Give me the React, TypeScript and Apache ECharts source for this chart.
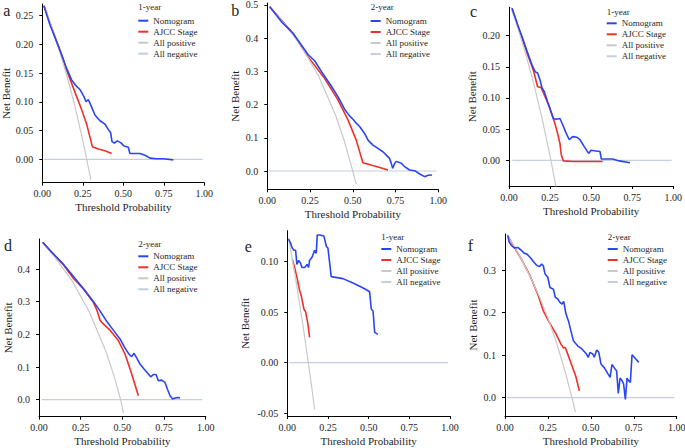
import React, { useEffect, useRef } from 'react';
import * as echarts from 'echarts';

const FONT = '"Liberation Serif", "Times New Roman", serif';

const xTicks = [0, 0.25, 0.5, 0.75, 1];
const seriesNames = ['Nomogram', 'AJCC Stage', 'All positive', 'All negative'];
const panelLetters = ['a', 'b', 'c', 'd', 'e', 'f'];
const panelYears = ['1-year', '2-year', '1-year', '2-year', '1-year', '2-year'];

const aYTicks = [0, 0.05, 0.1, 0.15, 0.2, 0.25];
const bYTicks = [0, 0.1, 0.2, 0.3, 0.4, 0.5];
const cYTicks = [0, 0.05, 0.1, 0.15, 0.2];
const dYTicks = [0, 0.1, 0.2, 0.3, 0.4];
const eYTicks = [-0.05, 0, 0.05, 0.1];
const fYTicks = [0, 0.1, 0.2, 0.3];

// Panel a
const aNomogram = [[0.01,0.267],[0.047,0.234],[0.088,0.205],[0.119,0.182],[0.15,0.158],[0.181,0.138],[0.208,0.128],[0.233,0.121],[0.257,0.109],[0.27,0.1],[0.284,0.104],[0.298,0.095],[0.325,0.077],[0.356,0.067],[0.387,0.061],[0.407,0.052],[0.422,0.046],[0.43,0.031],[0.444,0.028],[0.463,0.032],[0.484,0.029],[0.504,0.023],[0.531,0.021],[0.541,0.01],[0.603,0.01],[0.634,0.007],[0.665,0.002],[0.706,0.001],[0.747,0.001],[0.809,-0.001]];
const aAjcc = [[0.01,0.267],[0.088,0.205],[0.119,0.182],[0.15,0.155],[0.181,0.132],[0.212,0.109],[0.243,0.086],[0.274,0.061],[0.309,0.022],[0.346,0.018],[0.387,0.015],[0.428,0.01]];
const aAllPos = [[0.01,0.268],[0.05,0.237],[0.1,0.194],[0.15,0.147],[0.2,0.094],[0.25,0.033],[0.3,-0.036]];
const aAllNeg = [[0.01,0],[0.99,0]];

// Panel b
const bNomogram = [[0.014,0.495],[0.082,0.45],[0.15,0.415],[0.189,0.387],[0.238,0.351],[0.277,0.332],[0.326,0.292],[0.374,0.256],[0.413,0.224],[0.452,0.186],[0.481,0.166],[0.501,0.156],[0.52,0.144],[0.54,0.134],[0.569,0.113],[0.589,0.093],[0.618,0.078],[0.647,0.068],[0.676,0.058],[0.696,0.048],[0.715,0.038],[0.725,0.023],[0.733,0.008],[0.745,0.023],[0.754,0.029],[0.784,0.023],[0.803,0.013],[0.832,0.003],[0.862,0.001],[0.891,-0.009],[0.92,-0.017],[0.94,-0.013],[0.963,-0.012]];
const bAjcc = [[0.014,0.495],[0.15,0.415],[0.238,0.344],[0.335,0.279],[0.413,0.214],[0.472,0.154],[0.52,0.093],[0.559,0.025],[0.628,0.015],[0.706,0.003]];
const bAllPos = [[0.01,0.495],[0.1,0.444],[0.2,0.375],[0.3,0.286],[0.4,0.167],[0.45,0.091],[0.5,0.0],[0.52,-0.04]];
const bAllNeg = [[0.01,0],[0.99,0]];

// Panel c
const cNomogram = [[0.018,0.244],[0.053,0.217],[0.083,0.196],[0.114,0.172],[0.14,0.153],[0.16,0.142],[0.174,0.14],[0.189,0.129],[0.201,0.116],[0.215,0.11],[0.235,0.094],[0.256,0.078],[0.27,0.067],[0.286,0.066],[0.31,0.067],[0.327,0.057],[0.347,0.044],[0.367,0.033],[0.387,0.038],[0.412,0.037],[0.432,0.033],[0.458,0.022],[0.485,0.011],[0.499,0.016],[0.529,0.015],[0.554,0.014],[0.562,0.002],[0.631,0.002],[0.671,-0.001],[0.736,-0.004]];
const cAjcc = [[0.018,0.244],[0.083,0.193],[0.114,0.169],[0.148,0.145],[0.174,0.118],[0.195,0.117],[0.215,0.105],[0.245,0.086],[0.276,0.062],[0.296,0.043],[0.31,0.027],[0.318,0.009],[0.331,-0.001],[0.387,-0.002],[0.489,-0.002],[0.57,-0.002]];
const cAllPos = [[0.01,0.247],[0.05,0.216],[0.1,0.172],[0.15,0.124],[0.2,0.069],[0.25,0.007],[0.286,-0.043]];
const cAllNeg = [[0.02,0],[0.99,0]];

// Panel d
const dNomogram = [[0.022,0.482],[0.086,0.446],[0.146,0.415],[0.186,0.39],[0.236,0.359],[0.276,0.334],[0.326,0.301],[0.366,0.272],[0.406,0.24],[0.446,0.213],[0.486,0.186],[0.516,0.158],[0.542,0.138],[0.556,0.132],[0.57,0.142],[0.586,0.128],[0.606,0.109],[0.63,0.094],[0.656,0.079],[0.67,0.07],[0.686,0.077],[0.702,0.077],[0.716,0.058],[0.736,0.06],[0.756,0.053],[0.77,0.033],[0.786,0.012],[0.802,0.002],[0.816,0.005],[0.832,0.007],[0.846,0.005]];
const dAjcc = [[0.022,0.482],[0.146,0.413],[0.206,0.372],[0.266,0.339],[0.326,0.298],[0.346,0.276],[0.366,0.244],[0.376,0.237],[0.426,0.213],[0.476,0.181],[0.516,0.14],[0.55,0.089],[0.576,0.046],[0.596,0.012]];
const dAllPos = [[0.02,0.48],[0.1,0.433],[0.2,0.363],[0.3,0.271],[0.4,0.15],[0.45,0.073],[0.49,0.0],[0.506,-0.04]];
const dAllNeg = [[0.016,0],[0.98,0]];

// Panel e
const eNomogram = [[0.008,0.122],[0.02,0.118],[0.031,0.113],[0.041,0.111],[0.051,0.111],[0.059,0.097],[0.07,0.101],[0.082,0.098],[0.09,0.094],[0.107,0.094],[0.121,0.097],[0.131,0.094],[0.137,0.101],[0.152,0.104],[0.168,0.111],[0.178,0.108],[0.184,0.126],[0.199,0.126],[0.225,0.125],[0.24,0.115],[0.25,0.113],[0.27,0.085],[0.342,0.083],[0.414,0.078],[0.475,0.073],[0.506,0.07],[0.516,0.053],[0.527,0.051],[0.537,0.03],[0.557,0.028]];
const eAjcc = [[0.031,0.102],[0.045,0.094],[0.061,0.083],[0.076,0.071],[0.086,0.066],[0.102,0.053],[0.113,0.05],[0.127,0.038],[0.137,0.025]];
const eAllPos = [[0.008,0.123],[0.05,0.084],[0.1,0.033],[0.15,-0.024],[0.168,-0.046]];
const eAllNeg = [[0.014,0],[0.988,0]];

// Panel f
const fNomogram = [[0.016,0.381],[0.025,0.365],[0.039,0.357],[0.054,0.352],[0.074,0.353],[0.093,0.347],[0.113,0.339],[0.126,0.338],[0.146,0.33],[0.165,0.32],[0.184,0.311],[0.2,0.308],[0.214,0.314],[0.223,0.31],[0.233,0.291],[0.249,0.283],[0.262,0.259],[0.282,0.255],[0.293,0.236],[0.307,0.232],[0.32,0.224],[0.332,0.22],[0.342,0.226],[0.355,0.197],[0.369,0.181],[0.384,0.157],[0.398,0.134],[0.423,0.122],[0.449,0.114],[0.472,0.104],[0.485,0.095],[0.495,0.106],[0.511,0.103],[0.52,0.095],[0.534,0.112],[0.546,0.107],[0.559,0.079],[0.579,0.07],[0.598,0.057],[0.612,0.048],[0.623,0.078],[0.637,0.07],[0.65,0.063],[0.66,0.01],[0.67,0.046],[0.682,0.04],[0.691,0.032],[0.701,-0.004],[0.711,0.046],[0.72,0.04],[0.73,0.036],[0.74,0.101],[0.753,0.095],[0.779,0.083]];
const fAjcc = [[0.016,0.38],[0.1,0.322],[0.142,0.29],[0.19,0.244],[0.223,0.204],[0.258,0.177],[0.297,0.15],[0.326,0.126],[0.34,0.117],[0.351,0.118],[0.365,0.103],[0.39,0.075],[0.414,0.048],[0.433,0.016]];
const fAllPos = [[0.01,0.384],[0.05,0.358],[0.1,0.322],[0.15,0.282],[0.2,0.238],[0.25,0.187],[0.3,0.129],[0.35,0.062],[0.39,0.0],[0.41,-0.034]];
const fAllNeg = [[0.016,0],[0.986,0]];

const panelData = [
  [aNomogram, aAjcc, aAllPos, aAllNeg],
  [bNomogram, bAjcc, bAllPos, bAllNeg],
  [cNomogram, cAjcc, cAllPos, cAllNeg],
  [dNomogram, dAjcc, dAllPos, dAllNeg],
  [eNomogram, eAjcc, eAllPos, eAllNeg],
  [fNomogram, fAjcc, fAllPos, fAllNeg],
];
const panelYTicks = [aYTicks, bYTicks, cYTicks, dYTicks, eYTicks, fYTicks];

const layout = [
  { left: 42.3, top: 4, width: 162, height: 178.7, ymin: -0.0407, ymax: 0.27, dec: 2, nameGap: 29, lx: 3.3, ly: 10, legL: 138.3, legT: 15.2, yrY: 7 },
  { left: 267.3, top: 3, width: 171, height: 186.3, ymin: -0.0551, ymax: 0.506, dec: 1, nameGap: 26.5, lx: 231.3, ly: 10, legL: 370.7, legT: 15.5, yrY: 7.3 },
  { left: 509, top: 7.3, width: 164.3, height: 178.7, ymin: -0.0413, ymax: 0.2456, dec: 2, nameGap: 31.5, lx: 470, ly: 11, legL: 606.7, legT: 17.8, yrY: 11.7 },
  { left: 39, top: 239, width: 166.7, height: 177.7, ymin: -0.052, ymax: 0.492, dec: 1, nameGap: 26, lx: 4, ly: 245.7, legL: 138.3, legT: 250.8, yrY: 244 },
  { left: 287.3, top: 230.7, width: 162.7, height: 185.3, ymin: -0.0526, ymax: 0.1303, dec: 2, nameGap: 37, lx: 244.7, ly: 246.3, legL: 381.3, legT: 243.5, yrY: 237.3 },
  { left: 505, top: 234, width: 171.7, height: 182, ymin: -0.043, ymax: 0.3846, dec: 1, nameGap: 27, lx: 467.7, ly: 245, legL: 607.7, legT: 243.5, yrY: 237.3 },
];

const seriesStyles = [
  { color: '#2a46f2', width: 1.6, z: 5 },
  { color: '#f0302a', width: 1.6, z: 3 },
  { color: '#c9c9c9', width: 1.2, z: 4 },
  { color: '#c6cfdf', width: 1.2, z: 2 },
];

const TEXT_COLOR = '#1e1e1e';

export default function App() {
  const ref = useRef<HTMLDivElement>(null);
  useEffect(() => {
    if (!ref.current) return;
    const chart = echarts.init(ref.current, null, { renderer: 'svg' });
    const grids: any[] = [];
    const xAxes: any[] = [];
    const yAxes: any[] = [];
    const series: any[] = [];
    const legends: any[] = [];
    const graphics: any[] = [];

    layout.forEach((L, i) => {
      grids.push({ left: L.left, top: L.top, width: L.width, height: L.height, outerBoundsMode: 'none', containLabel: false });
      xAxes.push({
        type: 'value', gridIndex: i, min: 0, max: 1, interval: 0.25,
        name: 'Threshold Probability', nameLocation: 'middle', nameGap: 19,
        nameTextStyle: { fontFamily: FONT, fontSize: 11, fontWeight: 'normal', color: TEXT_COLOR },
        axisLine: { show: true, onZero: false, lineStyle: { color: '#000', width: 1 } },
        axisTick: { show: true, length: 3, lineStyle: { color: '#000' } },
        axisLabel: { margin: 6, fontFamily: FONT, fontSize: 10, color: TEXT_COLOR, formatter: (v: number) => v.toFixed(2) },
        splitLine: { show: false },
      });
      const ticks = panelYTicks[i];
      yAxes.push({
        type: 'value', gridIndex: i, min: L.ymin, max: L.ymax,
        name: 'Net Benefit', nameLocation: 'middle', nameGap: L.nameGap, nameRotate: 90,
        nameTextStyle: { fontFamily: FONT, fontSize: 11, fontWeight: 'normal', color: TEXT_COLOR },
        axisLine: { show: true, onZero: false, lineStyle: { color: '#000', width: 1 } },
        axisTick: { show: true, length: 3, customValues: ticks, lineStyle: { color: '#000' } },
        axisLabel: { margin: 9, customValues: ticks, fontFamily: FONT, fontSize: 10, color: TEXT_COLOR, formatter: (v: number) => v.toFixed(L.dec) },
        splitLine: { show: false },
      });
      const order = [3, 2, 1, 0];
      order.forEach((k) => {
        const st = seriesStyles[k];
        series.push({
          type: 'line', name: seriesNames[k], xAxisIndex: i, yAxisIndex: i,
          data: panelData[i][k], showSymbol: false, symbol: 'none', z: st.z,
          lineStyle: { color: st.color, width: st.width },
          itemStyle: { color: st.color },
          silent: true,
        });
      });
      legends.push({
        orient: 'vertical', left: L.legL, top: L.legT, itemWidth: 10, itemHeight: 2, itemGap: 0,
        icon: 'rect', selectedMode: false, padding: 0,
        data: seriesNames,
        textStyle: { fontFamily: FONT, fontSize: 9, color: TEXT_COLOR, lineHeight: 11 },
      });
      graphics.push({
        type: 'text', x: L.lx, y: L.ly,
        style: { text: panelLetters[i], fontFamily: FONT, fontSize: 16, fill: TEXT_COLOR, align: 'left', verticalAlign: 'middle' },
      });
      graphics.push({
        type: 'text', x: L.legL, y: L.yrY,
        style: { text: panelYears[i], fontFamily: FONT, fontSize: 9, fill: TEXT_COLOR, align: 'left', verticalAlign: 'middle' },
      });
    });

    chart.setOption({
      animation: false,
      backgroundColor: '#fff',
      grid: grids,
      xAxis: xAxes,
      yAxis: yAxes,
      series,
      legend: legends,
      graphic: graphics,
    });
    return () => chart.dispose();
  }, []);
  return <div ref={ref} style={{ position: 'absolute', left: 0, top: 0, width: 685, height: 448 }} />;
}
